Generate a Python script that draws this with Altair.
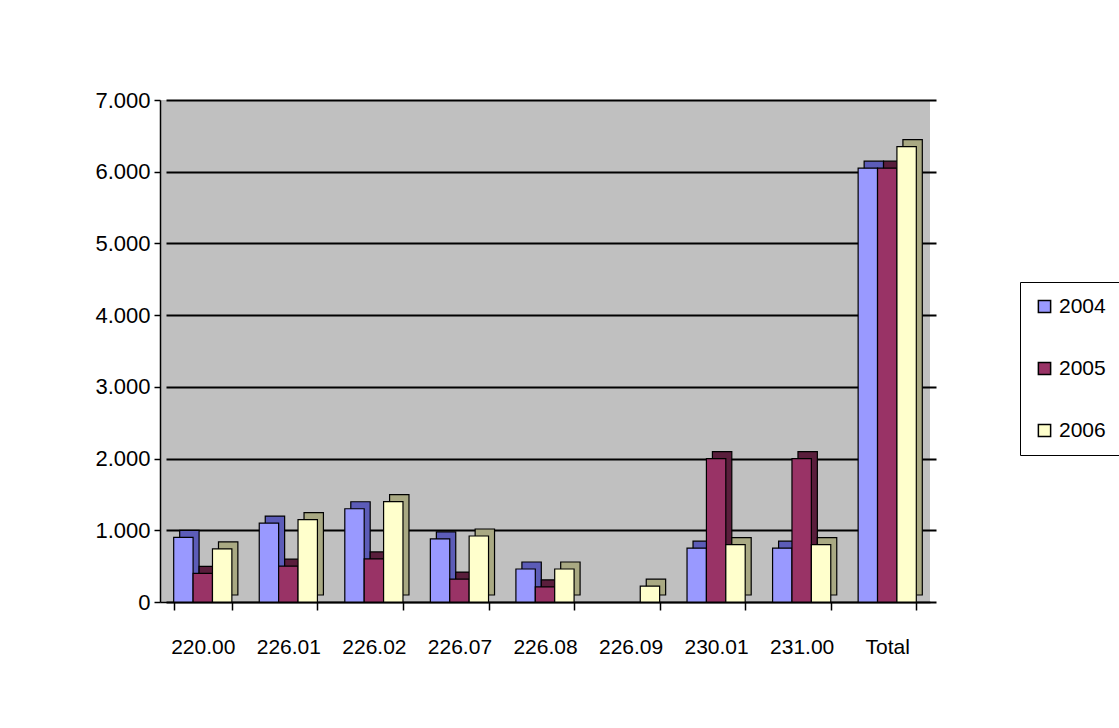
import altair as alt
import pandas as pd

categories = ["220.00", "226.01", "226.02", "226.07", "226.08", "226.09", "230.01", "231.00", "Total"]
years = ["2004", "2005", "2006"]
v2004 = [900, 1100, 1300, 880, 460, 0, 750, 750, 6050]
v2005 = [400, 500, 600, 320, 210, 0, 2000, 2000, 6050]
v2006 = [740, 1150, 1400, 920, 460, 220, 800, 800, 6350]
y_ticks = [0, 1000, 2000, 3000, 4000, 5000, 6000, 7000]

front_colors = ["#9999FF", "#993366", "#FFFFCC"]
depth_colors = ["#5C5CB8", "#5A1E3C", "#A9A983"]

FONT = "Liberation Sans"

rows = []
for yr, vals in zip(years, [v2004, v2005, v2006]):
    for c, v in zip(categories, vals):
        rows.append({"cat": c, "year": yr, "value": v})
df = pd.DataFrame(rows)
df = df[df["value"] > 0]

W, H = 770, 502
ysc = alt.Scale(domain=[0, 7000], nice=False)

y_axis = alt.Axis(values=y_ticks, labelFont=FONT, labelFontSize=22, labelColor="black",
                  labelExpr="replace(format(datum.value, ','), ',', '.')",
                  domainColor="black", domainWidth=1.5, tickColor="black", tickWidth=1.5,
                  tickSize=6, labelPadding=4,
                  grid=True, gridColor="black", gridWidth=2)

depth = alt.Chart(df).transform_calculate(
    yr2="'d' + datum.year"
).mark_bar(stroke="black", strokeWidth=1.2, yOffset=-7).encode(
    x=alt.X("cat:N", sort=categories, axis=None,
            scale=alt.Scale(domain=categories, range=[6, W + 6], paddingInner=0.32, paddingOuter=0.16)),
    xOffset=alt.XOffset("year:N", sort=years),
    y=alt.Y("value:Q", scale=ysc, title=None, axis=y_axis),
    fill=alt.Fill("yr2:N", sort="ascending", scale=alt.Scale(range=depth_colors), legend=None),
)

front = alt.Chart(df).mark_bar(stroke="black", strokeWidth=1.2).encode(
    x=alt.X("cat:N", sort=categories, title=None,
            scale=alt.Scale(domain=categories, paddingInner=0.32, paddingOuter=0.16),
            axis=alt.Axis(labelAngle=0, labelFont=FONT, labelFontSize=21, labelColor="black",
                          domainColor="black", domainWidth=1.5, tickColor="black", tickWidth=1.5,
                          tickSize=8, tickBand="extent", labelPadding=26)),
    xOffset=alt.XOffset("year:N", sort=years),
    y=alt.Y("value:Q", scale=ysc, title=None, axis=y_axis),
    color=alt.Color("year:N", scale=alt.Scale(domain=years, range=front_colors),
                    legend=alt.Legend(orient="none", legendX=860, legendY=182, title=None,
                                      labelFont=FONT, labelFontSize=21, labelColor="black",
                                      symbolType="square", symbolSize=150,
                                      symbolStrokeColor="black", symbolStrokeWidth=1.5,
                                      rowPadding=40, labelOffset=4, padding=14,
                                      strokeColor="black")),
)

chart = alt.layer(depth, front).resolve_scale(x="independent").properties(
    width=W, height=H,
    autosize=alt.AutoSizeParams(type="none"),
    padding={"left": 160, "top": 100, "right": 189, "bottom": 126},
).configure_view(strokeWidth=0, fill="#C0C0C0")

chart.save("out.html", embed_options={"renderer": "svg", "actions": False})
